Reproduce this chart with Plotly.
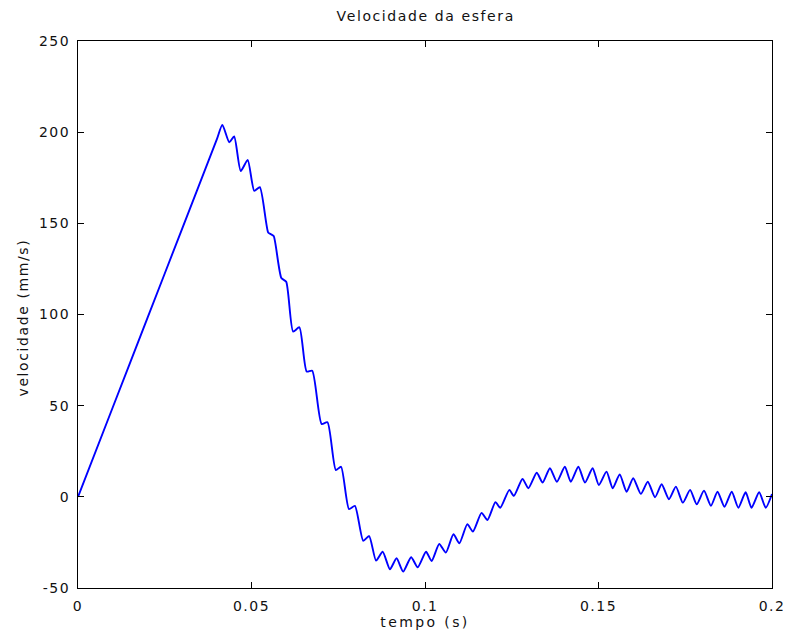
import plotly.graph_objects as go

# time (s) and sphere velocity (mm/s)
tempo = [
    0.0, 0.0100, 0.0200, 0.0300, 0.0400,
    0.0416, 0.0436, 0.0450, 0.0469, 0.0489, 0.0508, 0.0524,
    0.0548, 0.0556, 0.0564, 0.0586, 0.0600, 0.0620, 0.0638, 0.0659,
    0.0675, 0.0702, 0.0719, 0.0743, 0.0758, 0.0781, 0.0798, 0.0822,
    0.0839, 0.0859, 0.0878, 0.0899, 0.0918, 0.0937, 0.0960, 0.0979,
    0.1003, 0.1019, 0.1041, 0.1060, 0.1082, 0.1099, 0.1122, 0.1138,
    0.1163, 0.1180, 0.1203, 0.1217, 0.1243, 0.1256, 0.1281, 0.1298,
    0.1322, 0.1339, 0.1360, 0.1380, 0.1403, 0.1420, 0.1442, 0.1461,
    0.1483, 0.1501, 0.1523, 0.1541, 0.1561, 0.1581, 0.1600, 0.1622,
    0.1642, 0.1663, 0.1682, 0.1703, 0.1723, 0.1743, 0.1764, 0.1783,
    0.1804, 0.1824, 0.1843, 0.1863, 0.1884, 0.1903, 0.1924, 0.1941,
    0.1963, 0.1982, 0.2000,
]
velocidade = [
    0.0, 49.0, 98.0, 147.0, 196.0,
    204.0, 194.5, 197.6, 178.7, 184.8, 167.8, 169.8,
    145.0, 144.0, 143.0, 120.0, 118.0, 90.6, 93.0, 68.7,
    69.2, 40.0, 40.9, 14.7, 16.5, -6.7, -5.0, -24.1,
    -21.5, -35.0, -30.1, -39.7, -33.7, -41.0, -33.1, -38.6,
    -30.1, -35.2, -25.9, -30.6, -20.5, -25.5, -15.0, -19.1,
    -8.8, -12.7, -2.9, -6.0, 3.8, 0.5, 9.8, 4.7,
    13.2, 7.8, 15.7, 8.3, 16.5, 8.3, 16.5, 7.8,
    15.7, 6.5, 13.8, 4.7, 12.3, 2.8, 10.2, 1.6,
    8.3, -0.2, 6.9, -1.3, 5.6, -3.2, 3.8, -4.1,
    3.4, -4.9, 2.8, -5.4, 2.8, -6.0, 2.5, -6.0,
    2.5, -6.0, 1.5,
]

x_tickvals = [0, 0.05, 0.1, 0.15, 0.2]
x_ticktext = ["0", "0.05", "0.1", "0.15", "0.2"]
y_tickvals = [-50, 0, 50, 100, 150, 200, 250]
y_ticktext = ["-50", "0", "50", "100", "150", "200", "250"]

titulo = "Velocidade da esfera"
x_titulo = "tempo (s)"
y_titulo = "velocidade (mm/s)"

def spaced(s, ls=1.6):
    return f'<span style="letter-spacing:{ls}px">{s}</span>'

fig = go.Figure()
fig.add_trace(go.Scatter(
    x=tempo, y=velocidade, mode="lines",
    line=dict(color="#0000ff", width=1.9, shape="spline", smoothing=0.6),
    showlegend=False, hoverinfo="skip",
))

axis_common = dict(
    showline=True, linecolor="black", linewidth=1, mirror="ticks",
    ticks="inside", ticklen=6, tickcolor="black", tickwidth=1,
    showgrid=False, zeroline=False, automargin=False,
    tickfont=dict(family="DejaVu Sans", size=14, color="#111111"),
)

# the page body adds an 8px offset, so the figure is sized to 783x632
fig.update_layout(
    width=783, height=632,
    margin=dict(l=70, r=19, t=33, b=52),
    paper_bgcolor="white", plot_bgcolor="white",
    font=dict(family="DejaVu Sans", size=14, color="#111111"),
    title=dict(text=spaced(titulo, 1.6), x=0.5335, xanchor="center",
               y=1 - 8 / 632, yanchor="middle",
               font=dict(family="DejaVu Sans", size=14, color="#111111")),
    xaxis=dict(range=[0, 0.2], tickvals=x_tickvals,
               ticktext=[spaced(t, 1.5) for t in x_ticktext],
               ticklabelstandoff=5,
               title=dict(text=spaced(x_titulo, 2.4), standoff=4,
                          font=dict(family="DejaVu Sans", size=14, color="#111111")),
               **axis_common),
    yaxis=dict(range=[-50, 250], tickvals=y_tickvals,
               ticktext=[spaced(t, 1.5) for t in y_ticktext],
               ticklabelstandoff=4,
               **axis_common),
)

fig.add_annotation(
    text=spaced(y_titulo, 1.6), textangle=-90,
    xref="paper", yref="paper", x=0, y=0.5,
    xanchor="center", yanchor="middle", xshift=-56, yshift=-3,
    showarrow=False,
    font=dict(family="DejaVu Sans", size=14, color="#111111"),
)

fig.write_html("out.html")
